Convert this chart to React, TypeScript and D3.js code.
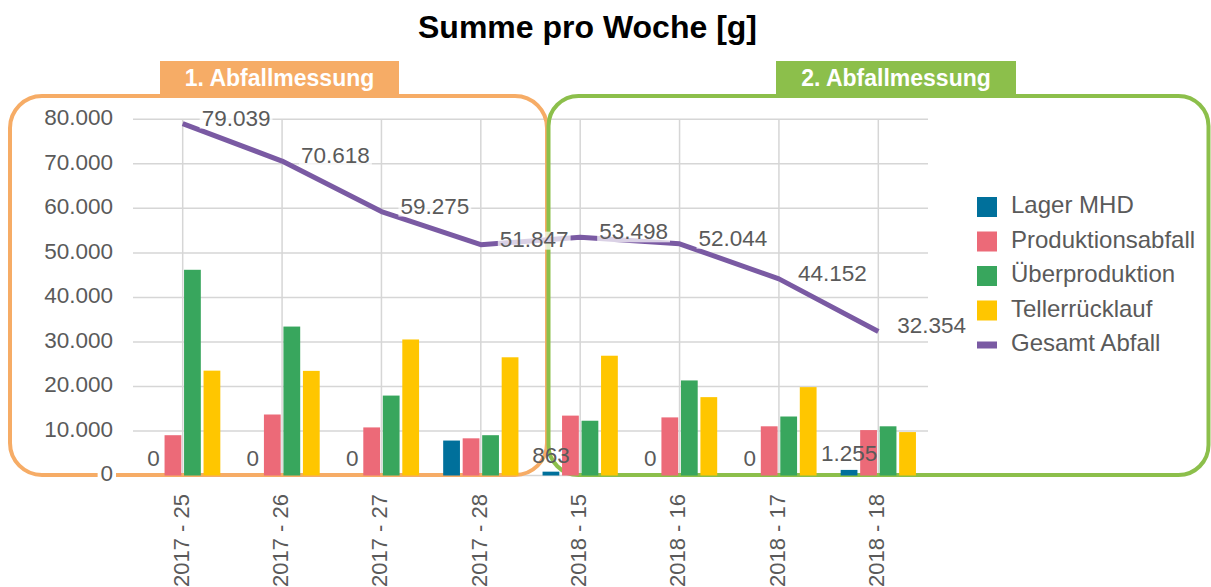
import React from "react";
import * as d3 from "d3";

const categories = ["2017 - 25", "2017 - 26", "2017 - 27", "2017 - 28", "2018 - 15", "2018 - 16", "2018 - 17", "2018 - 18"];
const seriesNames = ["Lager MHD", "Produktionsabfall", "Überproduktion", "Tellerrücklauf"];
const lagerMHD = [0, 0, 0, 7850, 863, 0, 0, 1255];
const produktionsabfall = [9050, 13700, 10800, 8350, 13450, 13050, 11050, 10200];
const ueberproduktion = [46200, 33450, 17950, 9050, 12300, 21350, 13250, 11050];
const tellerruecklauf = [23550, 23500, 30550, 26550, 26900, 17600, 19850, 9750];
const gesamtAbfall = [79039, 70618, 59275, 51847, 53498, 52044, 44152, 32354];
const yTicks = [0, 10000, 20000, 30000, 40000, 50000, 60000, 70000, 80000];
const lineName = "Gesamt Abfall";

const colors = ["#00709B", "#EC6A78", "#38A65D", "#FFC600"];
const lineColor = "#7A5AA3";
const textColor = "#5A5A5A";
const gridColor = "#D6D6D6";
const orange = "#F6AC66";
const green = "#8CBF4B";
const FONT = "'Liberation Sans', Arial, sans-serif";

const fmt = d3.formatLocale({ decimal: ",", thousands: ".", grouping: [3], currency: ["", "€"] }).format(",d");

export default function App() {
  const W = 1211, H = 587;
  const x = d3.scaleBand<string>().domain(categories).range([133, 928]);
  const y = d3.scaleLinear().domain([0, 80000]).range([475.5, 119.3]);
  const sub = d3.scaleBand<string>().domain(seriesNames).range([-39, 39]).paddingInner(0.14).paddingOuter(0.07);
  const seriesData = [lagerMHD, produktionsabfall, ueberproduktion, tellerruecklauf];
  const cx = (c: string) => (x(c) as number) + x.bandwidth() / 2;
  const line = d3.line<number>().x((_, i) => cx(categories[i])).y((d) => y(d));
  const fs = 22.5;

  return (
    <svg width={W} height={H} style={{ position: "absolute", left: 0, top: 0, background: "#fff" }} fontFamily={FONT}>
      {/* title */}
      <text x={587.5} y={30} textAnchor="middle" dominantBaseline="middle" fontSize={32} fontWeight="bold" fill="#000">
        Summe pro Woche [g]
      </text>

      {/* gridlines */}
      {yTicks.map((t) => (
        <line key={"h" + t} x1={133} x2={928} y1={y(t)} y2={y(t)} stroke={gridColor} strokeWidth={1.5} />
      ))}
      {categories.map((c) => (
        <line key={"v" + c} x1={cx(c)} x2={cx(c)} y1={y(80000)} y2={y(0)} stroke={gridColor} strokeWidth={1.5} />
      ))}

      {/* measurement boxes */}
      <rect x={10} y={96} width={537} height={379} rx={32} ry={32} fill="none" stroke={orange} strokeWidth={4} />
      <rect x={548.5} y={96} width={660} height={379} rx={30} ry={30} fill="none" stroke={green} strokeWidth={4} />
      <rect x={160} y={61} width={239} height={36} fill={orange} />
      <text x={279.5} y={80} textAnchor="middle" dominantBaseline="middle" fontSize={23} fontWeight="bold" fill="#fff">
        1. Abfallmessung
      </text>
      <rect x={776} y={61} width={240} height={36} fill={green} />
      <text x={896} y={80} textAnchor="middle" dominantBaseline="middle" fontSize={23} fontWeight="bold" fill="#fff">
        2. Abfallmessung
      </text>

      {/* y axis labels */}
      {yTicks.map((t) => {
        const label = fmt(t);
        const w = label.length * 0.55 * fs;
        return (
          <g key={"yl" + t}>
            {t === 0 && <rect x={113 - w - 3} y={y(t) - 12} width={w + 6} height={24} fill="#fff" />}
            <text x={113} y={y(t)} textAnchor="end" dominantBaseline="middle" fontSize={fs} fill={textColor}>
              {label}
            </text>
          </g>
        );
      })}

      {/* bars */}
      {seriesData.map((vals, si) =>
        vals.map((v, i) => {
          const c = categories[i];
          const bx = cx(c) + (sub(seriesNames[si]) as number);
          return v > 0 ? (
            <rect key={"b" + si + "-" + i} x={bx} y={y(v)} width={sub.bandwidth()} height={y(0) - y(v)} fill={colors[si]} />
          ) : null;
        })
      )}

      {/* small-value labels for Lager MHD */}
      {lagerMHD.map((v, i) => {
        if (v >= 5000) return null;
        const c = categories[i];
        const bx = cx(c) + (sub(seriesNames[0]) as number) + sub.bandwidth() / 2;
        return (
          <text key={"ll" + i} x={bx} y={y(v) - 15} textAnchor="middle" dominantBaseline="middle" fontSize={fs} fill={textColor}>
            {fmt(v)}
          </text>
        );
      })}

      {/* total line */}
      <path d={line(gesamtAbfall) || ""} fill="none" stroke={lineColor} strokeWidth={5} strokeLinejoin="round" />

      {/* line labels */}
      {gesamtAbfall.map((v, i) => {
        const label = fmt(v);
        const px = cx(categories[i]) + 19;
        const py = y(v) - 4;
        const w = (label.length - 1) * 0.556 * fs + 0.278 * fs;
        return (
          <g key={"gl" + i}>
            <rect x={px - 2} y={py - 9} width={w + 4} height={18} fill="#fff" fillOpacity={0.72} />
            <text x={px} y={py} dominantBaseline="middle" fontSize={fs} fill={textColor}>
              {label}
            </text>
          </g>
        );
      })}

      {/* x axis labels */}
      {categories.map((c) => (
        <text
          key={"xl" + c}
          transform={`translate(${cx(c)},494) rotate(-90)`}
          textAnchor="end"
          dominantBaseline="middle"
          fontSize={22}
          fill={textColor}
        >
          {c}
        </text>
      ))}

      {/* legend */}
      {seriesNames.map((s, i) => (
        <g key={"lg" + s} transform={`translate(977,${207 + i * 34.5})`}>
          <rect x={0} y={-10} width={20} height={20} fill={colors[i]} />
          <text x={34} y={0} dominantBaseline="middle" fontSize={24} fill={textColor}>
            {s}
          </text>
        </g>
      ))}
      <g transform={`translate(977,${207 + 4 * 34.5})`}>
        <rect x={0} y={-3.5} width={20} height={7} fill={lineColor} />
        <text x={34} y={0} dominantBaseline="middle" fontSize={24} fill={textColor}>
          {lineName}
        </text>
      </g>
    </svg>
  );
}
